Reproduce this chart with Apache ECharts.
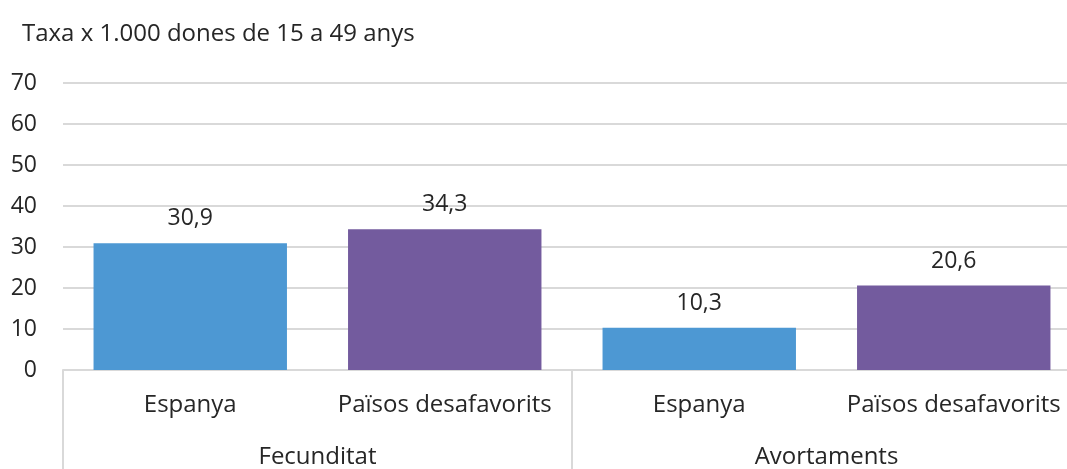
<!DOCTYPE html>
<html>
<head>
<meta charset="utf-8">
<script src="https://cdn.jsdelivr.net/npm/echarts@6/dist/echarts.min.js"></script>
<style>
  html, body { margin: 0; padding: 0; background: #fff; }
  #chart { width: 1067px; height: 469px; }
</style>
</head>
<body>
<div id="chart"></div>
<script>
// dades
var categories = ['Espanya', 'Països desafavorits', 'Espanya', 'Països desafavorits'];
var groups = ['Fecunditat', 'Avortaments'];
var values = [30.9, 34.3, 10.3, 20.6];
var barColors = ['#4D98D3', '#735B9E', '#4D98D3', '#735B9E'];
var yTicks = [0, 10, 20, 30, 40, 50, 60, 70];

var chart = echarts.init(document.getElementById('chart'));
var font = '"Open Sans", sans-serif';
var txt = '#262626';
var gridCol = '#d9d9d9';

var option = {
  animation: false,
  textStyle: { fontFamily: font },
  title: {
    text: 'Taxa x 1.000 dones de 15 a 49 anys',
    left: 17, top: 17,
    textStyle: { fontFamily: font, fontSize: 24, fontWeight: 'normal', color: txt }
  },
  grid: { left: 63, right: -14, top: 83, bottom: 99, outerBoundsMode: 'none' },
  xAxis: [
    {
      type: 'category',
      data: categories,
      axisLine: { show: true, lineStyle: { color: gridCol, width: 2 } },
      axisTick: { show: false },
      axisLabel: { margin: 23, fontSize: 24, color: txt, fontFamily: font, interval: 0 }
    },
    {
      type: 'category',
      data: groups,
      position: 'bottom',
      axisLine: { show: false },
      axisTick: { show: true, length: 99, lineStyle: { color: gridCol, width: 2 } },
      axisLabel: { margin: 75, fontSize: 24, color: txt, fontFamily: font, interval: 0 }
    }
  ],
  yAxis: {
    type: 'value',
    min: yTicks[0],
    max: yTicks[yTicks.length - 1],
    interval: 10,
    axisLine: { show: false },
    axisTick: { show: false },
    splitLine: { lineStyle: { color: gridCol, width: 2 } },
    axisLabel: { margin: 26, fontSize: 23, color: txt, fontFamily: font }
  },
  series: [{
    type: 'bar',
    xAxisIndex: 0,
    barWidth: '76%',
    data: values.map(function (v, i) {
      return { value: v, itemStyle: { color: barColors[i] } };
    }),
    label: {
      show: true,
      position: 'top',
      distance: 13,
      fontSize: 23,
      color: txt,
      fontFamily: font,
      formatter: function (p) { return String(p.value).replace('.', ','); }
    }
  }]
};

chart.setOption(option);
window.addEventListener('resize', chart.resize);
</script>
</body>
</html>
